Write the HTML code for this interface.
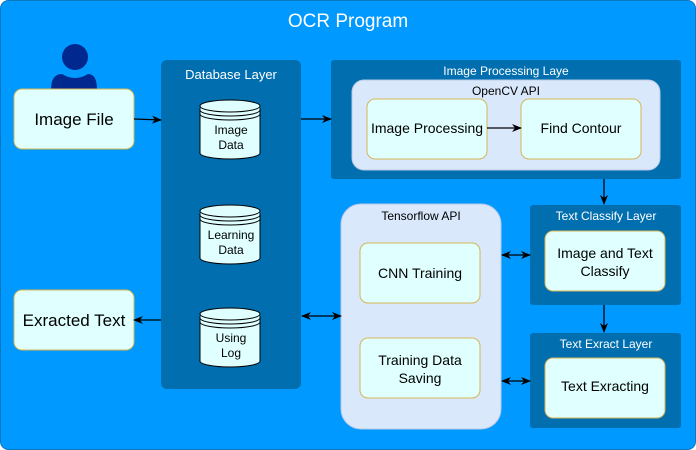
<!DOCTYPE html>
<html><head><style>body{margin:0;background:#fff}svg{display:block}text{font-family:"Liberation Sans",sans-serif}</style></head><body>
<svg width="696" height="450" viewBox="0 0 696 450" xmlns="http://www.w3.org/2000/svg">
<defs><marker id="a" markerWidth="10" markerHeight="8" refX="9" refY="4" orient="auto-start-reverse" markerUnits="userSpaceOnUse"><path d="M0,0 L10,4 L0,8 L3,4 z" fill="#000"/></marker></defs>
<rect x="0.5" y="0.5" width="695" height="449" rx="8" fill="#0099FF" stroke="#0b78c0"/>
<text x="348" y="27" font-size="19" fill="#fff" text-anchor="middle">OCR Program</text>
<circle cx="75" cy="57" r="13" fill="#00288F"/>
<path d="M51,90 Q51,74 62,74 Q75,82 88,74 Q97,74 97,90 z" fill="#00288F"/>
<g stroke="#D6B656" fill="#E0FFFF">
<rect x="14" y="89" width="120" height="60" rx="8"/>
<rect x="14" y="290" width="120" height="60" rx="8"/>
</g>
<text x="74" y="125" font-size="17" text-anchor="middle">Image File</text>
<text x="74" y="326" font-size="17" text-anchor="middle">Exracted Text</text>
<rect x="161" y="60" width="140" height="329" rx="6" fill="#006EAF"/>
<text x="231" y="79" font-size="13" fill="#fff" text-anchor="middle">Database Layer</text>
<g stroke="#000" fill="#E0FFFF">
<path d="M200,108 v45 a30,6 0 0 0 60,0 v-45"/><ellipse cx="230" cy="106" rx="30" ry="6"/><path d="M200,110 a30,6 0 0 0 60,0 M200,114 a30,6 0 0 0 60,0" fill="none"/>
<path d="M200,213 v45 a30,6 0 0 0 60,0 v-45"/><ellipse cx="230" cy="211" rx="30" ry="6"/><path d="M200,215 a30,6 0 0 0 60,0 M200,219 a30,6 0 0 0 60,0" fill="none"/>
<path d="M200,316 v45 a30,6 0 0 0 60,0 v-45"/><ellipse cx="230" cy="314" rx="30" ry="6"/><path d="M200,318 a30,6 0 0 0 60,0 M200,322 a30,6 0 0 0 60,0" fill="none"/>
</g>
<g font-size="12" text-anchor="middle">
<text x="231" y="134">Image</text><text x="231" y="149">Data</text>
<text x="231" y="239">Learning</text><text x="231" y="254">Data</text>
<text x="231" y="342">Using</text><text x="231" y="357">Log</text>
</g>
<rect x="331" y="60" width="350" height="119" rx="3" fill="#006EAF"/>
<text x="506" y="75" font-size="12" fill="#fff" text-anchor="middle">Image Processing Laye</text>
<rect x="352" y="80" width="308" height="90" rx="12" fill="#DAE8FC" stroke="#b9c9e4"/>
<text x="506" y="95" font-size="12" text-anchor="middle">OpenCV API</text>
<rect x="530" y="205" width="151" height="100" rx="3" fill="#006EAF"/>
<text x="606" y="220" font-size="12" fill="#fff" text-anchor="middle">Text Classify Layer</text>
<rect x="530" y="333" width="151" height="95" rx="3" fill="#006EAF"/>
<text x="606" y="348" font-size="12" fill="#fff" text-anchor="middle">Text Exract Layer</text>
<rect x="341" y="204" width="160" height="225" rx="20" fill="#DAE8FC" stroke="#b9c9e4"/>
<text x="421" y="220" font-size="12" text-anchor="middle">Tensorflow API</text>
<g stroke="#D6B656" fill="#E0FFFF">
<rect x="367" y="99" width="120" height="60" rx="8"/>
<rect x="521" y="99" width="120" height="60" rx="8"/>
<rect x="545" y="231" width="120" height="60" rx="8"/>
<rect x="545" y="358" width="120" height="60" rx="8"/>
<rect x="360" y="243" width="120" height="60" rx="8"/>
<rect x="360" y="338" width="120" height="60" rx="8"/>
</g>
<g font-size="14" text-anchor="middle">
<text x="427" y="133">Image Processing</text>
<text x="581" y="133">Find Contour</text>
<text x="605" y="258">Image and Text</text><text x="605" y="276">Classify</text>
<text x="605" y="391">Text Exracting</text>
<text x="420" y="278">CNN Training</text>
<text x="420" y="365">Training Data</text><text x="420" y="383">Saving</text>
</g>
<g stroke="#000" stroke-width="1.3" marker-end="url(#a)">
<line x1="134" y1="119" x2="161" y2="120"/>
<line x1="301" y1="119" x2="331" y2="119"/>
<line x1="487" y1="128" x2="521" y2="128"/>
<line x1="604" y1="179" x2="604" y2="204"/>
<line x1="604" y1="305" x2="604" y2="332"/>
<line x1="161" y1="320" x2="134" y2="320"/>
<line x1="502" y1="255" x2="530" y2="255" marker-start="url(#a)"/>
<line x1="502" y1="381" x2="530" y2="381" marker-start="url(#a)"/>
<line x1="302" y1="316" x2="341" y2="316" marker-start="url(#a)"/>
</g>
</svg>
</body></html>
